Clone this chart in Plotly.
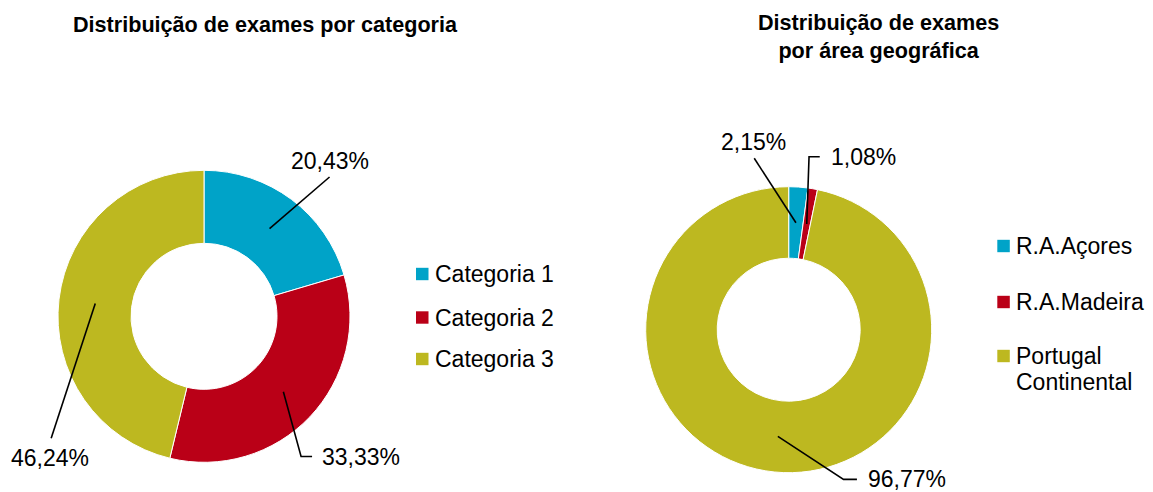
import math
import plotly.graph_objects as go

# ---- data ----
cat_labels = ["Categoria 1", "Categoria 2", "Categoria 3"]
cat_values = [20.43, 33.33, 46.24]
geo_labels = ["R.A.Açores", "R.A.Madeira", "Portugal<br>Continental"]
geo_values = [2.15, 1.08, 96.77]
colors = ["#00A3C8", "#BA0017", "#BDB820"]
title_left = "Distribuição de exames por categoria"
title_right = "Distribuição de exames<br>por área geográfica"

W, H = 1153, 492
OFF = 8  # default page body margin
FW, FH = W - OFF, H - OFF
FONT = "Liberation Sans, Arial, sans-serif"
FS = 23
LEG_LINE = 25.5

# ---- layout (pixel geometry in page coordinates) ----
pies = [
    dict(cx=204, cy=316.3, r=146, values=cat_values, labels=cat_labels),
    dict(cx=788.7, cy=329.7, r=143, values=geo_values, labels=geo_labels),
]
HOLE = 0.5
# leader line vertex offsets (relative to slice anchor) and text anchor offsets
leader_style = [
    [  # left pie
        dict(path=[(60, -51.6)], text=(60, -68), xanchor="center"),
        dict(path=[(17.7, 64.7), (28.7, 64.7)], text=(37, 65.3), xanchor="left"),
        dict(path=[(-44.1, 134.9)], text=(-44.8, 154.6), xanchor="center"),
    ],
    [  # right pie
        dict(path=[(-41.7, -64.4)], text=(-42, -80.7), xanchor="center"),
        dict(path=[(2.3, -67.3), (13, -67.3)], text=(22, -66.5), xanchor="left"),
        dict(path=[(65.7, 43), (79.1, 43)], text=(88.5, 43), xanchor="left"),
    ],
]
legend_pos = [
    dict(x=416, rows=[274, 317.5, 359]),
    dict(x=997.3, rows=[246, 302, 356]),
]

def px(x):
    return (x - OFF) / FW

def py(y):
    return 1 - (y - OFF) / FH

fig = go.Figure()
shapes = []
annotations = []

for i, p in enumerate(pies):
    fig.add_trace(go.Pie(
        labels=[l.replace("<br>", " ") for l in p["labels"]],
        values=p["values"],
        hole=HOLE,
        sort=False,
        direction="clockwise",
        rotation=0,
        textinfo="none",
        hoverinfo="label+percent",
        showlegend=False,
        marker=dict(colors=colors, line=dict(color="white", width=1)),
        domain=dict(x=[px(p["cx"] - p["r"]), px(p["cx"] + p["r"])],
                    y=[py(p["cy"] + p["r"]), py(p["cy"] - p["r"])]),
    ))
    total = sum(p["values"])
    cum = 0
    rm = p["r"] * (1 + HOLE) / 2
    for j, v in enumerate(p["values"]):
        mid = (cum + v / 2) / total * 2 * math.pi
        cum += v
        sx = p["cx"] + rm * math.sin(mid)
        sy = p["cy"] - rm * math.cos(mid)
        st = leader_style[i][j]
        pts = [(sx, sy)] + [(sx + dx, sy + dy) for dx, dy in st["path"]]
        path = "M " + " L ".join(f"{px(x):.5f},{py(y):.5f}" for x, y in pts)
        shapes.append(dict(type="path", xref="paper", yref="paper", path=path,
                           line=dict(color="black", width=1.6)))
        txt = f"{v:.2f}".replace(".", ",") + "%"
        annotations.append(dict(
            x=px(sx + st["text"][0]), y=py(sy + st["text"][1]),
            xref="paper", yref="paper", text=txt, showarrow=False,
            xanchor=st["xanchor"], yanchor="middle",
            font=dict(family=FONT, size=FS, color="black")))
    # legend
    lg = legend_pos[i]
    for j, lab in enumerate(p["labels"]):
        yc = lg["rows"][j]
        shapes.append(dict(type="rect", xref="paper", yref="paper",
                           x0=px(lg["x"]), x1=px(lg["x"] + 12.5),
                           y0=py(yc + 6.2), y1=py(yc - 6.2),
                           fillcolor=colors[j], line=dict(width=0)))
        for k, line in enumerate(lab.split("<br>")):
            annotations.append(dict(
                x=px(lg["x"] + 17), y=py(yc + k * LEG_LINE), xref="paper", yref="paper",
                text=line, showarrow=False, xanchor="left", yanchor="middle",
                align="left", font=dict(family=FONT, size=FS, color="black")))

annotations.append(dict(x=px(265), y=py(24), xref="paper", yref="paper",
                        text=f"<b>{title_left}</b>", showarrow=False,
                        xanchor="center", yanchor="middle",
                        font=dict(family=FONT, size=21.6, color="black")))
annotations.append(dict(x=px(878), y=py(37), xref="paper", yref="paper",
                        text=f"<b>{title_right}</b>", showarrow=False,
                        xanchor="center", yanchor="middle",
                        font=dict(family=FONT, size=21.6, color="black")))

fig.update_layout(
    width=FW, height=FH,
    margin=dict(l=0, r=0, t=0, b=0),
    paper_bgcolor="white", plot_bgcolor="white",
    shapes=shapes, annotations=annotations,
)
fig.write_html("out.html")
